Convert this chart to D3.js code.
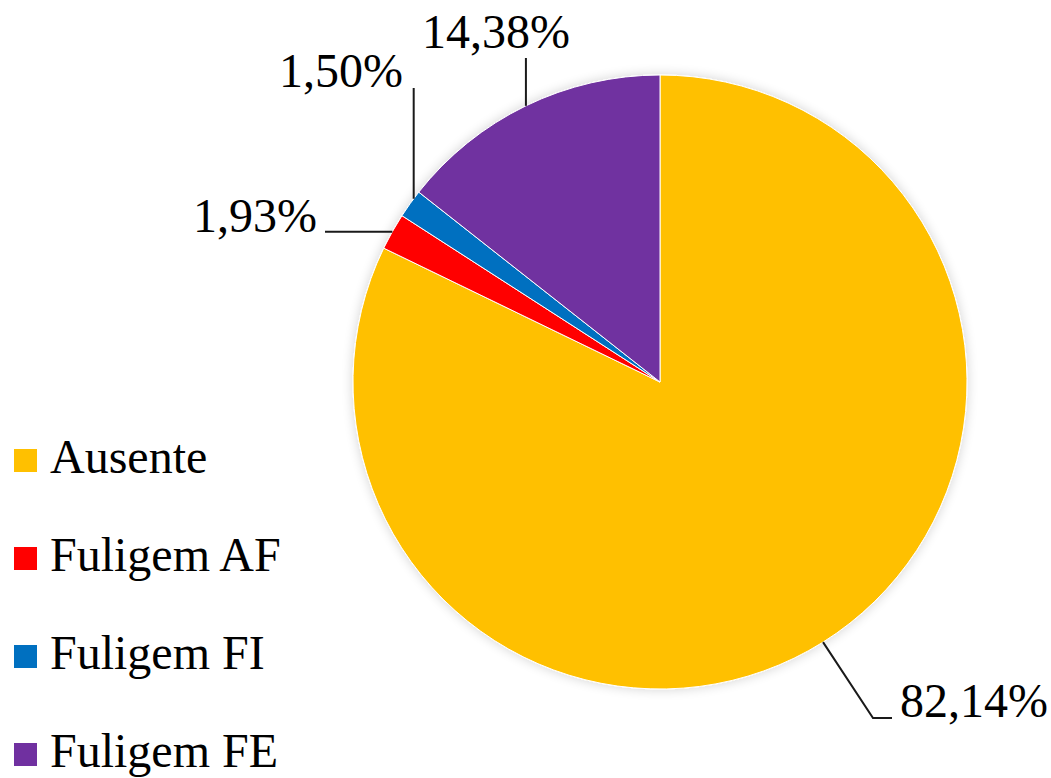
<!DOCTYPE html>
<html>
<head>
<meta charset="utf-8">
<script src="https://cdn.jsdelivr.net/npm/d3@7"></script>
<style>
  html, body { margin: 0; padding: 0; background: #fff; }
  svg { display: block; }
  text { font-family: "Liberation Serif", "Times New Roman", serif; fill: #000; }
</style>
</head>
<body>
<svg id="chart" width="1051" height="778"></svg>
<script>
// ---- data ----
const categories = ["Ausente", "Fuligem AF", "Fuligem FI", "Fuligem FE"];
const values = [82.14, 1.93, 1.50, 14.38];
const valueLabels = ["82,14%", "1,93%", "1,50%", "14,38%"];
const colors = ["#FFC000", "#FF0000", "#0070C0", "#7030A0"];

// ---- layout ----
const W = 1051, H = 778;
const cx = 660, cy = 382, R = 307;
const fontSize = 48;

// label placement per slice: text anchor point & leader bend
const labelLayout = [
  { tx: 900, ty: 717, anchor: "start", kind: "elbowRight", bendX: 873, endX: 892, lineY: 718, angleShift: 0 },
  { tx: 317, ty: 232, anchor: "end",   kind: "horizontal", endX: 325, angleShift: 0 },
  { tx: 403, ty: 87,  anchor: "end",   kind: "vertical",   endY: 88, angleShift: 0.02 },
  { tx: 496, ty: 48,  anchor: "middle",kind: "vertical",   endY: 58, angleShift: 0 }
];

const svg = d3.select("#chart");

// soft shadow like the original
const defs = svg.append("defs");
const f = defs.append("filter").attr("id", "shadow")
  .attr("x", "-20%").attr("y", "-20%").attr("width", "140%").attr("height", "140%");
f.append("feGaussianBlur").attr("in", "SourceAlpha").attr("stdDeviation", 6).attr("result", "blur");
f.append("feOffset").attr("in", "blur").attr("dx", 0).attr("dy", 0).attr("result", "off");
f.append("feComponentTransfer").attr("in", "off").attr("result", "soft")
  .append("feFuncA").attr("type", "linear").attr("slope", 0.18);
const m = f.append("feMerge");
m.append("feMergeNode").attr("in", "soft");
m.append("feMergeNode").attr("in", "SourceGraphic");

const data = categories.map((c, i) => ({ cat: c, value: values[i], label: valueLabels[i], color: colors[i], lay: labelLayout[i] }));

const pie = d3.pie().value(d => d.value).sort(null).startAngle(0).endAngle(2 * Math.PI);
const arcs = pie(data);
const arc = d3.arc().innerRadius(0).outerRadius(R);

const g = svg.append("g").attr("transform", `translate(${cx},${cy})`);
g.append("g").attr("filter", "url(#shadow)")
  .selectAll("path").data(arcs).join("path")
  .attr("d", arc)
  .attr("fill", d => d.data.color)
  .attr("stroke", "#fff")
  .attr("stroke-width", 1);

// leader lines + labels
function edgePoint(a) {
  // d3 angle: 0 at 12 o'clock, clockwise
  return [cx + R * Math.sin(a), cy - R * Math.cos(a)];
}

const lab = svg.append("g");
arcs.forEach(d => {
  const L = d.data.lay;
  const mid = (d.startAngle + d.endAngle) / 2 + L.angleShift;
  const [px, py] = edgePoint(mid);
  let pts;
  if (L.kind === "elbowRight") {
    pts = [[px, py], [L.bendX, L.lineY], [L.endX, L.lineY]];
  } else if (L.kind === "horizontal") {
    pts = [[px, py], [L.endX, py]];
  } else {
    pts = [[px, py], [px, L.endY]];
  }
  lab.append("path")
    .attr("d", d3.line()(pts))
    .attr("fill", "none")
    .attr("stroke", "#1a1a1a")
    .attr("stroke-width", 2);
  lab.append("text")
    .attr("x", L.tx).attr("y", L.ty)
    .attr("text-anchor", L.anchor)
    .attr("font-size", fontSize)
    .text(d.data.label);
});

// legend
const legendY = d3.scalePoint().domain(categories).range([473, 767]);
const leg = svg.append("g");
data.forEach(d => {
  const y = legendY(d.cat);
  leg.append("rect")
    .attr("x", 14).attr("y", y - 24)
    .attr("width", 23).attr("height", 23)
    .attr("fill", d.color);
  leg.append("text")
    .attr("x", 50).attr("y", y)
    .attr("font-size", fontSize)
    .text(d.cat);
});
</script>
</body>
</html>
